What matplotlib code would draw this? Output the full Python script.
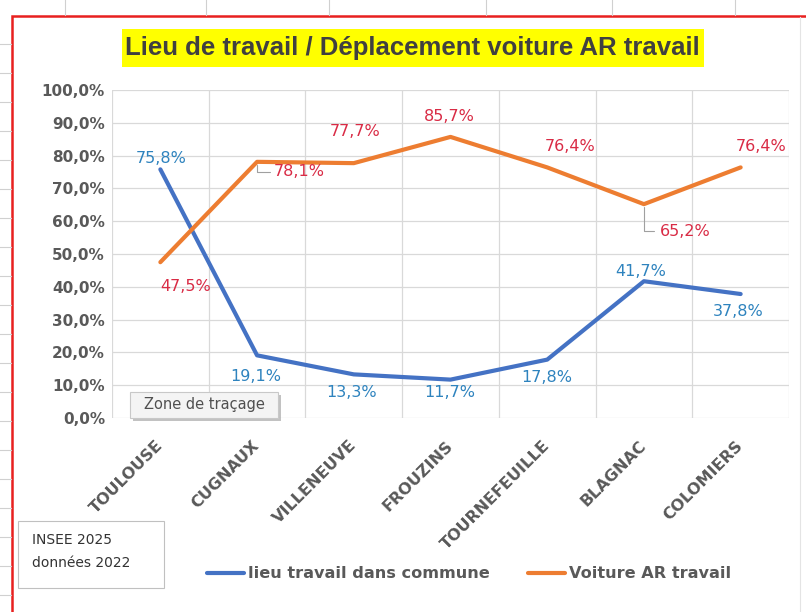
import matplotlib
matplotlib.use("Agg")
import matplotlib.pyplot as plt
from matplotlib.patches import Rectangle
from matplotlib.lines import Line2D

# %% Data
communes = ["TOULOUSE", "CUGNAUX", "VILLENEUVE", "FROUZINS",
            "TOURNEFEUILLE", "BLAGNAC", "COLOMIERS"]
lieu_travail = [75.8, 19.1, 13.3, 11.7, 17.8, 41.7, 37.8]
voiture_ar = [47.5, 78.1, 77.7, 85.7, 76.4, 65.2, 76.4]
y_ticks = [0, 10, 20, 30, 40, 50, 60, 70, 80, 90, 100]

BLUE = "#4472C4"
ORANGE = "#ED7D31"
BLUE_TXT = "#2E83BE"
RED_TXT = "#D92B45"
GRAY_TXT = "#595959"

W, H = 806, 612

def px(x, y):
    # pixel position (from top-left) -> figure fraction
    return x / W, 1 - y / H

fig = plt.figure(figsize=(W / 100, H / 100), dpi=100, facecolor="white")

# %% Spreadsheet background
for xx in [65, 206, 329, 486, 612, 735]:
    fig.add_artist(Line2D([xx / W, xx / W], [1, 1 - 15 / H], color="#D0D0D0", lw=0.8))
for yy in range(44, 612, 29):
    fig.add_artist(Line2D([0, 11 / W], [1 - yy / H, 1 - yy / H], color="#D0D0D0", lw=0.8))
fig.add_artist(Line2D([800 / W, 800 / W], [1 - 17 / H, 0], color="#E4E4E4", lw=0.8))
fig.add_artist(Rectangle(px(12, 640), 820 / W, 624 / H, transform=fig.transFigure,
                         fill=False, edgecolor="#E8201F", lw=1.8, clip_on=False))

# %% Plot area
left, bottom = px(112, 418)
right, top = px(789, 90)
ax = fig.add_axes([left, bottom, right - left, top - bottom])
x = list(range(len(communes)))

ax.plot(x, lieu_travail, color=BLUE, lw=3, solid_capstyle="round", zorder=3,
        label="lieu travail dans commune")
ax.plot(x, voiture_ar, color=ORANGE, lw=3, solid_capstyle="round", zorder=3,
        label="Voiture AR travail")

ax.set_xlim(-0.5, len(communes) - 0.5)
ax.set_ylim(0, 100)
ax.set_yticks(y_ticks)
ax.set_yticklabels([("%.1f%%" % v).replace(".", ",") for v in y_ticks],
                   fontsize=11, fontweight="bold", color=GRAY_TXT)
ax.set_xticks(x)
ax.set_xticklabels(communes, rotation=45, ha="right", va="center", rotation_mode="anchor",
                   fontsize=11.5, fontweight="bold", color=GRAY_TXT)
ax.set_xticks([i - 0.5 for i in range(len(communes) + 1)], minor=True)
ax.tick_params(axis="both", which="both", length=0)
ax.tick_params(axis="x", pad=18)
ax.tick_params(axis="y", pad=5)
ax.grid(axis="y", which="major", color="#D9D9D9", lw=0.9)
ax.grid(axis="x", which="minor", color="#D9D9D9", lw=0.9)
for s in ax.spines.values():
    s.set_visible(False)

# %% Data labels (offsets in pixels)
blue_off = [(1, 11), (-1, -21), (-2, -18), (-1, -13), (0, -18), (-3, 10), (-2, -17)]
orange_off = [(25, -24), (42, -10), (1, 32), (-1, 20), (23, 21), (41, -27), (20, 21)]

def fmt(v):
    return ("%.1f%%" % v).replace(".", ",")

for i, v in enumerate(lieu_travail):
    ax.annotate(fmt(v), (i, v), xytext=blue_off[i], textcoords="offset pixels",
                ha="center", va="center", fontsize=11.5, color=BLUE_TXT, zorder=4)
for i, v in enumerate(voiture_ar):
    ax.annotate(fmt(v), (i, v), xytext=orange_off[i], textcoords="offset pixels",
                ha="center", va="center", fontsize=11.5, color=RED_TXT, zorder=4)

# leader lines for CUGNAUX and BLAGNAC labels
for i, dx, dy in [(1, 16, -10), (5, 13, -27)]:
    ax.annotate("", (i, voiture_ar[i]), xytext=(dx, dy), textcoords="offset pixels",
                arrowprops=dict(arrowstyle="-", color="#A0A0A0", lw=0.8,
                                connectionstyle="angle,angleA=0,angleB=90,rad=0"))

# %% Title
fig.add_artist(Rectangle(px(122, 67), 582 / W, 38 / H, transform=fig.transFigure,
                         facecolor="#FFFF00", edgecolor="none"))
fig.text(*px(412, 48), "Lieu de travail / Déplacement voiture AR travail",
         ha="center", va="center", fontsize=18.5, fontweight="bold", color="#404040",
         family=["Liberation Sans Narrow", "Liberation Sans", "DejaVu Sans"])

# %% "Zone de traçage" tooltip
fig.add_artist(Rectangle(px(133, 421), 148 / W, 26 / H, transform=fig.transFigure,
                         facecolor="#9A9A9A", edgecolor="none", alpha=0.6, zorder=5))
fig.add_artist(Rectangle(px(130, 418), 148 / W, 26 / H, transform=fig.transFigure,
                         facecolor="#F4F4F4", edgecolor="#C8C8C8", lw=0.8, zorder=6))
fig.text(*px(204, 405), "Zone de traçage", ha="center", va="center",
         fontsize=10.5, color="#505050", zorder=7)

# %% Source box
fig.add_artist(Rectangle(px(18, 588), 146 / W, 67 / H, transform=fig.transFigure,
                         facecolor="white", edgecolor="#C0C0C0", lw=0.8))
fig.text(*px(32, 540), "INSEE 2025", ha="left", va="center", fontsize=10, color="#333333")
fig.text(*px(32, 563), "données 2022", ha="left", va="center", fontsize=10, color="#333333")

# %% Legend
leg = fig.legend(loc="center", bbox_to_anchor=px(469, 574), ncol=2, frameon=False,
                 handlelength=2.3, handletextpad=0.25, columnspacing=2.4,
                 prop=dict(size=11.6, weight="bold"))
for t in leg.get_texts():
    t.set_color(GRAY_TXT)

fig.savefig("out.png", dpi=100, facecolor="white")
